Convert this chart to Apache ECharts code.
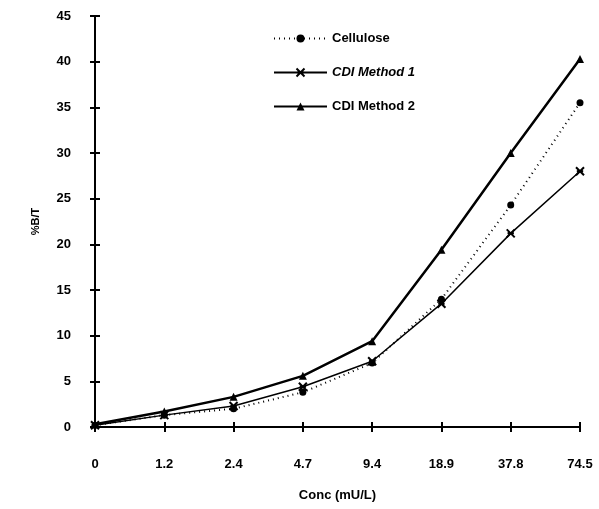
<!DOCTYPE html>
<html><head><meta charset="utf-8">
<script src="https://cdn.jsdelivr.net/npm/echarts@6/dist/echarts.min.js"></script>
<style>html,body{margin:0;padding:0;background:#fff}#c{width:599px;height:509px}</style>
</head><body><div id="c"></div>
<script>
const categories = ['0','1.2','2.4','4.7','9.4','18.9','37.8','74.5'];
const cellulose = [0.2, 1.3, 2.0, 3.8, 7.0, 14.0, 24.3, 35.5];
const cdiMethod1 = [0.2, 1.3, 2.3, 4.4, 7.2, 13.5, 21.2, 28.0];
const cdiMethod2 = [0.3, 1.7, 3.3, 5.6, 9.4, 19.4, 30.0, 40.3];

const font = {fontFamily:'Liberation Sans, Arial', fontWeight:'bold', fontSize:13, color:'#000'};
const crossPath = 'path://M0,0 L10,10 M10,0 L0,10 M1,5 L9,5';
const chart = echarts.init(document.getElementById('c'));
const axLine = {lineStyle:{color:'#000', width:2}};
chart.setOption({
  animation:false,
  grid:{left:95, top:16, right:19, bottom:82},
  legend:{
    orient:'vertical', left:268, top:27, itemGap:21, itemWidth:53, itemHeight:10,
    textStyle:Object.assign({}, font),
    data:[
      {name:'Cellulose'},
      {name:'CDI Method 1', textStyle:{fontStyle:'italic'}},
      {name:'CDI Method 2'}
    ]
  },
  xAxis:[{
    type:'category', data:categories, boundaryGap:false,
    axisLine:axLine, axisTick:{alignWithLabel:true, length:5, lineStyle:{width:2,color:'#000'}},
    axisLabel:Object.assign({}, font, {margin:31}),
    name:'Conc (mU/L)', nameLocation:'middle', nameGap:62, nameTextStyle:font
  },{
    type:'category', data:categories, boundaryGap:false, position:'bottom',
    axisLine:{show:false}, axisTick:{inside:true, length:5, lineStyle:{width:2,color:'#000'}},
    axisLabel:{show:false}
  }],
  yAxis:[{
    type:'value', min:0, max:45, interval:5,
    axisLine:Object.assign({show:true}, axLine), axisTick:{show:true, length:5, lineStyle:{width:2,color:'#000'}},
    splitLine:{show:false},
    axisLabel:Object.assign({}, font, {margin:24}),
    name:'%B/T', nameLocation:'middle', nameGap:54, nameRotate:90, nameTextStyle:Object.assign({}, font, {fontSize:11})
  },{
    type:'value', min:0, max:45, interval:5, position:'left',
    axisLine:{show:false}, axisTick:{show:true, inside:true, length:5, lineStyle:{width:2,color:'#000'}},
    splitLine:{show:false}, axisLabel:{show:false}
  }],
  series:[
    {name:'Cellulose', type:'line', data:cellulose, symbol:'circle', symbolSize:7,
     lineStyle:{color:'#000', width:2, type:[1,4]}, itemStyle:{color:'#000'}},
    {name:'CDI Method 1', type:'line', data:cdiMethod1, symbol:crossPath, symbolSize:8,
     lineStyle:{color:'#000', width:1.5}, itemStyle:{color:'#000', borderColor:'#000', borderWidth:2}},
    {name:'CDI Method 2', type:'line', data:cdiMethod2, symbol:'triangle', symbolSize:8,
     lineStyle:{color:'#000', width:2.5}, itemStyle:{color:'#000'}}
  ]
});
</script></body></html>
